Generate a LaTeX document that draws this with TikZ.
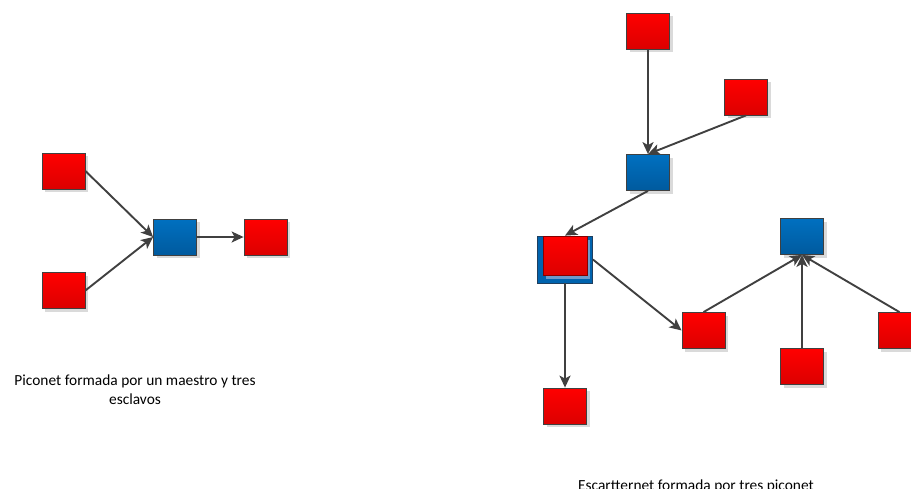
\documentclass[tikz,border=0pt]{standalone}
\usepackage{fontspec}
\setmainfont{Carlito}
\usetikzlibrary{arrows.meta,shadows}

\definecolor{redtop}{HTML}{FF0000}
\definecolor{redbot}{HTML}{DC0000}
\definecolor{bluetop}{HTML}{0070C0}
\definecolor{bluebot}{HTML}{005A9E}
\definecolor{edgegray}{HTML}{404040}
\definecolor{shadegray}{HTML}{DADADA}
\definecolor{hubblue}{HTML}{0063AE}
\definecolor{hubedge}{HTML}{1F3F5F}
\definecolor{hubshade}{HTML}{6C9ACB}

\tikzset{
  box/.style={rectangle, inner sep=0pt, minimum width=43pt, minimum height=36pt,
    draw=edgegray, line width=0.8pt,
    drop shadow={shadow xshift=3pt, shadow yshift=-3pt, fill=shadegray, opacity=1}},
  slave/.style={box, top color=redtop, bottom color=redbot},
  master/.style={box, top color=bluetop, bottom color=bluebot},
  link/.style={draw=edgegray, line width=1.9pt,
    -{Stealth[length=12pt,width=11pt,inset=3pt]}},
  caption/.style={font=\fontsize{15.4}{19}\selectfont, inner sep=0pt, align=center}
}

\begin{document}
\begin{tikzpicture}[x=1pt,y=-1pt]
  \useasboundingbox (0,0) rectangle (911,488);

  % Piconet: one master, three slaves
  \node[slave]  (l1) at (63.5,171)   {};
  \node[slave]  (l2) at (63.5,290.5) {};
  \node[master] (lm) at (175,237)  {};
  \node[slave]  (l3) at (265.5,237) {};

  \draw[link] (l1.east) -- (lm.west);
  \draw[link] (l2.east) -- (lm.west);
  \draw[link] (lm.east) -- (l3.west);

  \node[caption, anchor=base] (cap1) at (135,404)
    {Piconet formada por un maestro y tres\\esclavos};

  % Scatternet: three piconets joined by a bridge node
  \node[slave]  (r1) at (648,31)   {};
  \node[slave]  (r2) at (746,97)   {};
  \node[master] (rm1) at (648,172.5) {};

  % bridge: slave of one piconet and master of another
  \node[rectangle, inner sep=0pt, minimum width=55pt, minimum height=47pt,
        fill=hubblue, draw=hubedge, line width=0.8pt] (hub) at (565,259.5) {};
  \node[rectangle, inner sep=0pt, minimum width=44pt, minimum height=39pt,
        top color=redtop, bottom color=redbot, draw=redbot!60!black, line width=0.5pt,
        drop shadow={shadow xshift=3pt, shadow yshift=-3pt, fill=hubshade, opacity=1}]
        (hubred) at (565,256) {};

  \node[slave]  (r3) at (565,406)    {};
  \node[slave]  (r4) at (703.5,330.5) {};
  \node[master] (rm2) at (802,236.5) {};
  \node[slave]  (r5) at (802,366.5) {};
  \node[slave]  (r6) at (899.5,330.5) {};

  \draw[link] (r1.south) -- (rm1.north);
  \draw[link] (r2.south) -- (rm1.north);
  \draw[link] (rm1.south) -- (hub.north);
  \draw[link] (hub.south) -- (r3.north);
  \draw[link] (hub.east) -- (r4.west);
  \draw[link] (r4.north) -- (rm2.south);
  \draw[link] (r5.north) -- (rm2.south);
  \draw[link] (r6.north) -- (rm2.south);

  \node[caption, anchor=base] (cap2) at (696,490)
    {Escartternet formada por tres piconet};
\end{tikzpicture}
\end{document}
